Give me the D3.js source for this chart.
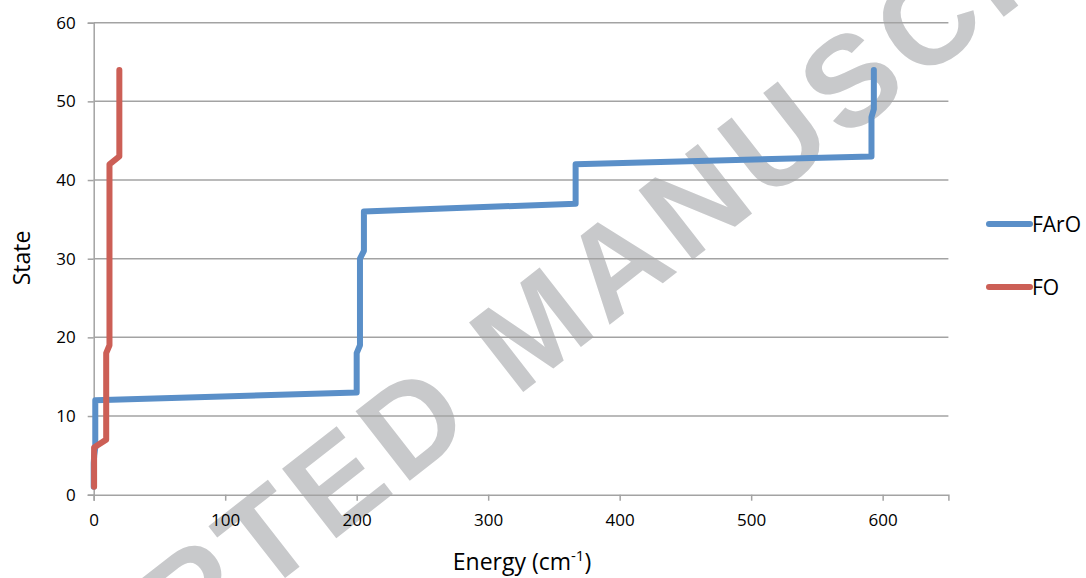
<!DOCTYPE html>
<html>
<head>
<meta charset="utf-8">
<script src="https://cdn.jsdelivr.net/npm/d3@7"></script>
<style>
  html, body { margin: 0; padding: 0; background: #ffffff; }
  svg { display: block; font-family: "Open Sans", Lato, sans-serif; }
</style>
</head>
<body>
<svg id="chart" width="1086" height="578"></svg>
<script>
// State index for each level (1..54)
const states = [1,2,3,4,5,6,7,8,9,10,11,12,13,14,15,16,17,18,19,20,21,22,23,24,25,26,27,
                28,29,30,31,32,33,34,35,36,37,38,39,40,41,42,43,44,45,46,47,48,49,50,51,52,53,54];

// Level energies (cm-1), FArO complex
const energyFArO = [0,0,0,0,0.4,1.2,1.2,1.2,1.2,1.2,1.2,1.2,
                    200,200,200,200,200,200,
                    202.5,202.5,202.5,202.5,202.5,202.5,202.5,202.5,202.5,202.5,202.5,202.5,
                    205.5,205.5,205.5,205.5,205.5,205.5,
                    366.5,366.5,366.5,366.5,366.5,366.5,
                    591.5,591.5,591.5,591.5,591.5,591.5,
                    593.3,593.3,593.3,593.3,593.3,593.3];

// Level energies (cm-1), FO
const energyFO = [0.3,0.3,0.3,0.3,0.3,0.3,
                  9.5,9.5,9.5,9.5,9.5,9.5,9.5,9.5,9.5,9.5,9.5,9.5,
                  12,12,12,12,12,12,12,12,12,12,12,12,12,12,12,12,12,12,12,12,12,12,12,12,
                  19.5,19.5,19.5,19.5,19.5,19.5,19.5,19.5,19.5,19.5,19.5,19.5];

const seriesNames = ["FArO", "FO"];
const xTicks = [0, 100, 200, 300, 400, 500, 600];
const yTicks = [0, 10, 20, 30, 40, 50, 60];

const colors = { FArO: "#5a8fc8", FO: "#cc5f56" };

const svg = d3.select("#chart");
const plotLeft = 93.7, plotRight = 948.4, plotTop = 22.7, plotBottom = 494.7;

// Watermark
svg.append("text")
  .attr("transform", "translate(-123,897) rotate(-38)")
  .attr("font-family", "'Liberation Sans', Arial, sans-serif")
  .attr("font-weight", "bold")
  .attr("font-size", 128)
  .attr("letter-spacing", 8)
  .attr("fill", "#c8c9cb")
  .text("ACCEPTED MANUSCRIPT");

const x = d3.scaleLinear().domain([0, 650]).range([plotLeft, plotRight]);
const y = d3.scaleLinear().domain([0, 60]).range([plotBottom, plotTop]);

const gridColor = "#a3a3a3";

// Horizontal gridlines
svg.append("g")
  .selectAll("line")
  .data(yTicks.filter(d => d > 0))
  .join("line")
  .attr("x1", plotLeft).attr("x2", plotRight)
  .attr("y1", d => y(d)).attr("y2", d => y(d))
  .attr("stroke", gridColor).attr("stroke-width", 1.5);

// X axis
const xAxis = svg.append("g")
  .attr("transform", `translate(0,${plotBottom})`)
  .call(d3.axisBottom(x).tickValues(xTicks).tickSize(6).tickPadding(13).tickFormat(d3.format("d")));
xAxis.select(".domain").attr("stroke", gridColor).attr("stroke-width", 1.5);
xAxis.selectAll(".tick line").attr("stroke", gridColor).attr("stroke-width", 1.5);
xAxis.selectAll(".tick text").attr("font-size", 17).attr("fill", "#000").attr("font-family", "'Open Sans', sans-serif");

// Y axis
const yAxis = svg.append("g")
  .attr("transform", `translate(${plotLeft},0)`)
  .call(d3.axisLeft(y).tickValues(yTicks).tickSize(6).tickPadding(12).tickFormat(d3.format("d")));
yAxis.select(".domain").attr("stroke", gridColor).attr("stroke-width", 1.5);
yAxis.selectAll(".tick line").attr("stroke", gridColor).attr("stroke-width", 1.5);
yAxis.selectAll(".tick text").attr("font-size", 17).attr("fill", "#000").attr("font-family", "'Open Sans', sans-serif");

// Axis titles
const xTitle = svg.append("text")
  .attr("x", 522)
  .attr("y", 570)
  .attr("text-anchor", "middle")
  .attr("font-size", 23)
  .attr("fill", "#000");
xTitle.append("tspan").text("Energy (cm");
xTitle.append("tspan").attr("dy", -9).attr("font-size", 15).text("-1");
xTitle.append("tspan").attr("dy", 9).text(")");

svg.append("text")
  .attr("transform", "translate(30,258) rotate(-90)")
  .attr("text-anchor", "middle")
  .attr("font-size", 23)
  .attr("fill", "#000")
  .text("State");

// Series lines
const line = d3.line()
  .x(d => x(d[0]))
  .y(d => y(d[1]));

const series = [
  { name: "FArO", values: energyFArO },
  { name: "FO", values: energyFO }
];

svg.append("g")
  .selectAll("path")
  .data(series)
  .join("path")
  .attr("d", s => line(s.values.map((e, i) => [e, states[i]])))
  .attr("fill", "none")
  .attr("stroke", s => colors[s.name])
  .attr("stroke-width", 6)
  .attr("stroke-linejoin", "round")
  .attr("stroke-linecap", "round");

// Legend
const legend = svg.append("g");
const legendY = [224, 287];
seriesNames.forEach((name, i) => {
  legend.append("line")
    .attr("x1", 989).attr("x2", 1030)
    .attr("y1", legendY[i]).attr("y2", legendY[i])
    .attr("stroke", colors[name]).attr("stroke-width", 6)
    .attr("stroke-linecap", "round");
  legend.append("text")
    .attr("x", 1032).attr("y", legendY[i] + 8)
    .attr("font-size", 21)
    .attr("fill", "#000")
    .text(name);
});
</script>
</body>
</html>
